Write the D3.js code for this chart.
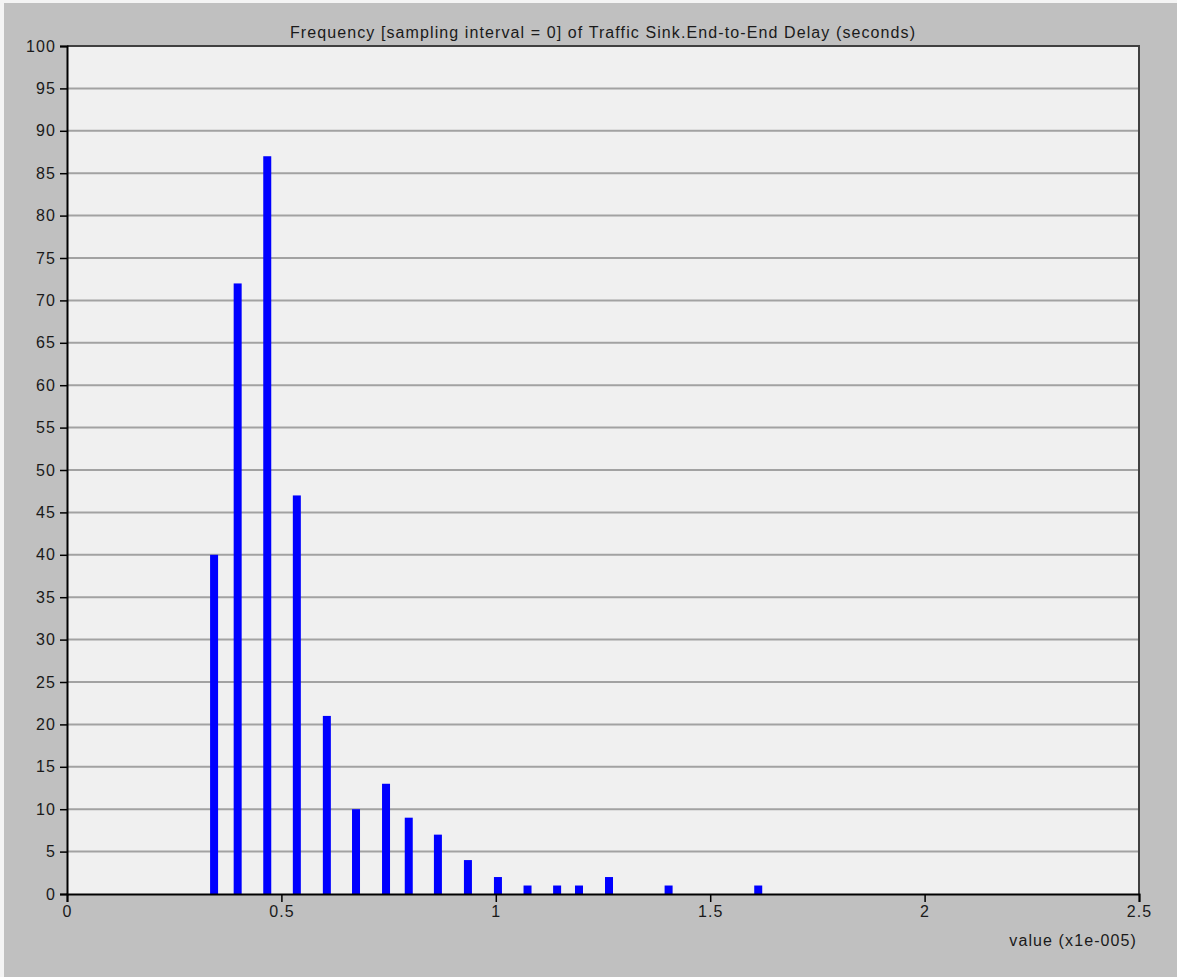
<!DOCTYPE html>
<html>
<head>
<meta charset="utf-8">
<script src="https://cdn.jsdelivr.net/npm/d3@7"></script>
<style>
  html, body { margin: 0; padding: 0; background: #c0c0c0; }
  svg { display: block; }
  text { font-family: "Liberation Sans", Arial, sans-serif; fill: #1a1a1a; letter-spacing: 1.1px; }
</style>
</head>
<body>
<svg id="chart" width="1177" height="977"></svg>
<script>
// Histogram bins: delay value (x1e-005 s) and occurrence count
const delayValues = [0.343, 0.398, 0.467, 0.536, 0.606, 0.674, 0.744, 0.797, 0.865,
                     0.935, 1.005, 1.074, 1.143, 1.194, 1.264, 1.403, 1.612];
const frequencies = [40, 72, 87, 47, 21, 10, 13, 9, 7, 4, 2, 1, 1, 1, 2, 1, 1];
const xTicks = [0, 0.5, 1, 1.5, 2, 2.5];
const xTickLabels = ["0", "0.5", "1", "1.5", "2", "2.5"];
const yTicks = d3.range(0, 101, 5);
const titleText = "Frequency [sampling interval = 0] of Traffic Sink.End-to-End Delay (seconds)";
const xAxisLabel = "value (x1e-005)";

const W = 1177, H = 977;
const plot = { left: 67, right: 1139, top: 46, bottom: 894 };
const fontSize = 16;

const svg = d3.select("#chart");

// window background with light bevel on top/left
svg.append("rect").attr("width", W).attr("height", H).attr("fill", "#c0c0c0");
svg.append("rect").attr("x", 0).attr("y", 0).attr("width", W).attr("height", 3).attr("fill", "#f4f4f4");
svg.append("rect").attr("x", 0).attr("y", 0).attr("width", 4).attr("height", H).attr("fill", "#f4f4f4");

const x = d3.scaleLinear().domain([0, 2.5]).range([plot.left, plot.right]);
const y = d3.scaleLinear().domain([0, 100]).range([plot.bottom, plot.top]);

// plot area
svg.append("rect")
  .attr("x", plot.left).attr("y", plot.top)
  .attr("width", plot.right - plot.left).attr("height", plot.bottom - plot.top)
  .attr("fill", "#f0f0f0");

// horizontal grid lines
svg.append("g").selectAll("line").data(yTicks.filter(d => d > 0)).join("line")
  .attr("x1", plot.left).attr("x2", plot.right)
  .attr("y1", d => y(d)).attr("y2", d => y(d))
  .attr("stroke", "#a2a2a2").attr("stroke-width", 2);

// bars
const barW = 8;
svg.append("g").selectAll("rect").data(delayValues.map((v, i) => ({ v, f: frequencies[i] }))).join("rect")
  .attr("x", d => x(d.v) - barW / 2)
  .attr("y", d => y(d.f))
  .attr("width", barW)
  .attr("height", d => y(0) - y(d.f))
  .attr("fill", "#0000ff");

// frame: dark top/right, black left/bottom axes
svg.append("line").attr("x1", plot.left).attr("x2", plot.right + 1).attr("y1", plot.top).attr("y2", plot.top)
  .attr("stroke", "#404040").attr("stroke-width", 2);
svg.append("line").attr("x1", plot.right).attr("x2", plot.right).attr("y1", plot.top).attr("y2", plot.bottom)
  .attr("stroke", "#404040").attr("stroke-width", 2);

// y axis
const yAxis = d3.axisLeft(y).tickValues(yTicks).tickSize(7).tickPadding(4);
const gy = svg.append("g").attr("transform", `translate(${plot.left},0)`).call(yAxis);
gy.select(".domain").attr("stroke", "#000").attr("stroke-width", 2);
gy.selectAll(".tick line").attr("stroke", "#000").attr("stroke-width", 1.5);
gy.selectAll(".tick text").attr("font-size", fontSize).attr("fill", "#1a1a1a")
  .attr("font-family", "'Liberation Sans', Arial, sans-serif");

// x axis
const xAxis = d3.axisBottom(x).tickValues(xTicks).tickFormat((d, i) => xTickLabels[i]).tickSize(8).tickPadding(4);
const gx = svg.append("g").attr("transform", `translate(0,${plot.bottom})`).call(xAxis);
gx.select(".domain").attr("stroke", "#000").attr("stroke-width", 2);
gx.selectAll(".tick line").attr("stroke", "#000").attr("stroke-width", 1.5);
gx.selectAll(".tick text").attr("font-size", fontSize).attr("fill", "#1a1a1a")
  .attr("font-family", "'Liberation Sans', Arial, sans-serif");

// title
svg.append("text")
  .attr("x", (plot.left + plot.right) / 2).attr("y", 38)
  .attr("text-anchor", "middle").attr("font-size", fontSize)
  .text(titleText);

// x axis label
svg.append("text")
  .attr("x", 1137).attr("y", 946)
  .attr("text-anchor", "end").attr("font-size", fontSize)
  .text(xAxisLabel);
</script>
</body>
</html>
